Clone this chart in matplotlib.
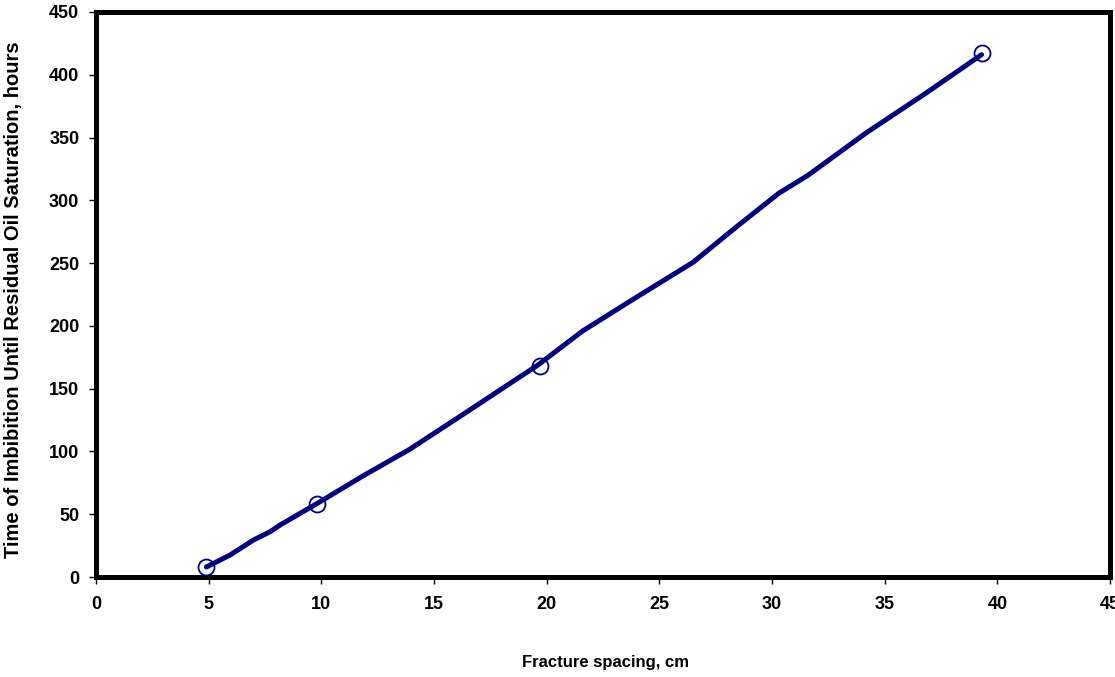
import matplotlib
matplotlib.use("Agg")
import matplotlib.pyplot as plt

line_x = [4.9, 5.95, 6.98, 7.72, 8.17, 9.76, 11.8, 13.94, 16.5, 19.6, 21.6, 24.0, 26.5, 28.5, 30.3, 31.6, 34.2, 36.8, 39.3]
line_y = [8, 17.5, 29.4, 36, 41.4, 58, 80, 101.9, 132, 168.7, 196, 223, 250.7, 280, 305.6, 320, 354, 385, 416]
pts_x = [4.9, 9.8, 19.7, 39.3]
pts_y = [8, 58, 168, 417]
xticks = [0, 5, 10, 15, 20, 25, 30, 35, 40, 45]
yticks = [0, 50, 100, 150, 200, 250, 300, 350, 400, 450]

plt.rcParams['font.family'] = ['Liberation Sans', 'DejaVu Sans']
fig = plt.figure(figsize=(11.15, 6.77), dpi=100)
ax = fig.add_axes([96/1115, 1 - 577/677, (1110-96)/1115, (577-12)/677])

ax.plot(line_x, line_y, color='#000080', lw=3.6, solid_capstyle='round', zorder=3)
ax.plot(pts_x, pts_y, linestyle='none', marker='o', markersize=11.5,
        markerfacecolor='none', markeredgecolor='#000080', markeredgewidth=1.3, zorder=4)

ax.set_xlim(0, 45)
ax.set_ylim(0, 450)
ax.set_xticks(xticks)
ax.set_yticks(yticks)
ax.set_xticklabels([str(v) for v in xticks], fontsize=13, fontweight='bold')
ax.set_yticklabels([str(v) for v in yticks], fontsize=13, fontweight='bold')
ax.tick_params(direction='out', length=5, width=1, colors='black')
ax.tick_params(axis='x', pad=9)
ax.tick_params(axis='y', pad=7)
for s in ax.spines.values():
    s.set_linewidth(3.6)
    s.set_color('black')

fig.text(605/1115, 1 - 663/677, 'Fracture spacing, cm', ha='center', va='center',
         fontsize=12, fontweight='bold')
fig.text(14/1115, 1 - 300/677, 'Time of Imbibition Until Residual Oil Saturation, hours',
         ha='center', va='center', rotation=90, fontsize=14.5, fontweight='bold')

fig.savefig('out.png', dpi=100)
